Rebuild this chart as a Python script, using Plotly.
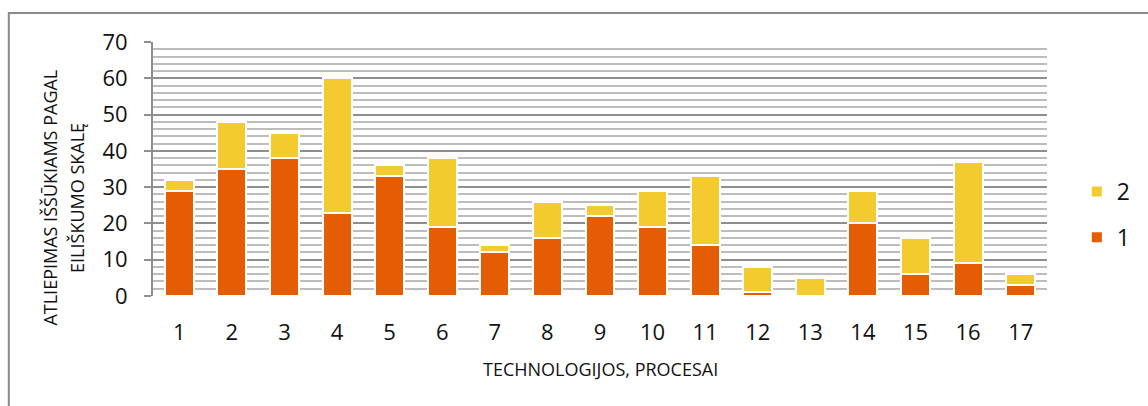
import plotly.graph_objects as go

categories = [str(i) for i in range(1, 18)]
series1 = [29, 35, 38, 23, 33, 19, 12, 16, 22, 19, 14, 1, 0, 20, 6, 9, 3]
series2 = [3, 13, 7, 37, 3, 19, 2, 10, 3, 10, 19, 7, 5, 9, 10, 28, 3]
y_ticks = [0, 10, 20, 30, 40, 50, 60, 70]

ORANGE = "#E55C02"
YELLOW = "#F4CB2F"
FONT = "Open Sans"

W, H = 1148, 406
L, R, T, B = 153, 96, 42, 110
pw = W - L - R
ph = H - T - B

def px(x):
    return (x - L) / pw

def py(y):
    return (H - B - y) / ph

fig = go.Figure()
fig.add_trace(go.Bar(x=categories, y=series1, name="1",
                     marker=dict(color=ORANGE, line=dict(color="white", width=2)),
                     legendgroup="g1", legendrank=2))
fig.add_trace(go.Bar(x=categories, y=series2, name="2",
                     marker=dict(color=YELLOW, line=dict(color="white", width=2)),
                     legendgroup="g2", legendrank=1))

fig.update_layout(
    width=W, height=H,
    margin=dict(l=L, r=R, t=T, b=B),
    barmode="stack", bargap=0.45,
    plot_bgcolor="white", paper_bgcolor="white",
    font=dict(family=FONT, color="#111111"),
    legend=dict(x=px(1082), xanchor="left", y=py(170), yanchor="top",
                traceorder="grouped", tracegroupgap=13,
                font=dict(size=23, family=FONT), itemwidth=30,
                bgcolor="rgba(0,0,0,0)"),
    xaxis=dict(tickfont=dict(size=22, family=FONT), showgrid=False,
               ticks="", ticklabelstandoff=21, showline=False),
    yaxis=dict(range=[0, 70], tickvals=y_ticks, tickfont=dict(size=22, family=FONT),
               showgrid=True, gridcolor="#8E8E8E", gridwidth=2,
               minor=dict(dtick=2, showgrid=True, gridcolor="#BDBDBD", gridwidth=2),
               ticks="outside", ticklen=7, tickcolor="#8E8E8E", tickwidth=2,
               showline=True, linecolor="#8E8E8E", linewidth=2,
               ticklabelstandoff=12, zeroline=False),
    shapes=[dict(type="rect", xref="paper", yref="paper",
                 x0=px(8), x1=px(1170), y0=py(430), y1=py(13),
                 line=dict(color="#8A8A8A", width=2), fillcolor="rgba(0,0,0,0)",
                 layer="below")],
    annotations=[
        dict(text="ATLIEPIMAS IŠŠŪKIAMS PAGAL", textangle=-90, xref="paper", yref="paper",
             x=px(49), y=py(198), xanchor="center", yanchor="middle", showarrow=False,
             font=dict(size=18, family=FONT)),
        dict(text="EILIŠKUMO SKALĘ", textangle=-90, xref="paper", yref="paper",
             x=px(76.5), y=py(198), xanchor="center", yanchor="middle", showarrow=False,
             font=dict(size=18, family=FONT)),
        dict(text="TECHNOLOGIJOS, PROCESAI", xref="paper", yref="paper",
             x=px(603), y=py(369), xanchor="center", yanchor="middle", showarrow=False,
             font=dict(size=18, family=FONT)),
    ],
)

fig.write_html("out.html")
